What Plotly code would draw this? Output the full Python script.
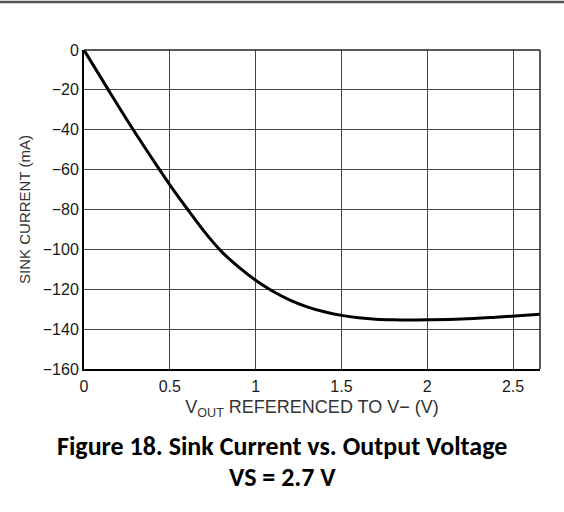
import plotly.graph_objects as go

# Data
vout = [0, 0.142, 0.287, 0.44, 0.5, 0.6, 0.7, 0.8, 0.9, 1.0, 1.1, 1.2, 1.3, 1.4,
        1.5, 1.6, 1.7, 1.8, 1.9, 2.0, 2.2, 2.4, 2.657]
sink_ma = [0, -20, -40, -60, -67.6, -79.5, -91, -101, -108.8, -115.5, -121, -125.4,
           -128.8, -131.3, -133.1, -134.3, -135, -135.3, -135.4, -135.3, -134.9,
           -134.0, -132.6]

x_ticks = [0, 0.5, 1, 1.5, 2, 2.5]
x_tick_labels = ["0", "0.5", "1", "1.5", "2", "2.5"]
y_ticks = [0, -20, -40, -60, -80, -100, -120, -140, -160]

W, H = 564, 512
L, R, T, B = 84, 24, 50, 143
pw, ph = W - L - R, H - T - B

fig = go.Figure()
fig.add_trace(go.Scatter(x=vout, y=sink_ma, mode="lines",
                         line=dict(color="black", width=3, shape="spline", smoothing=1.0),
                         showlegend=False, hoverinfo="skip"))

sans = "Liberation Sans, Arial, sans-serif"
tick_font = dict(family=sans, size=16, color="#1a1a1a")

fig.update_layout(
    width=W, height=H,
    margin=dict(l=L, r=R, t=T, b=B, pad=0, autoexpand=False),
    paper_bgcolor="white", plot_bgcolor="white",
    xaxis=dict(range=[0, 2.657], tickvals=x_ticks, ticktext=x_tick_labels,
               showgrid=True, gridcolor="#444", gridwidth=1.2,
               zeroline=False, showline=True, linecolor="black", linewidth=2,
               ticks="", ticklabelstandoff=2,
               tickfont=tick_font,
               title=dict(text="V<sub>OUT</sub> REFERENCED TO V− (V)",
                          font=dict(family=sans, size=18, color="#333"),
                          standoff=6)),
    yaxis=dict(range=[-160, 0], tickvals=y_ticks,
               showgrid=True, gridcolor="#444", gridwidth=1.2,
               zeroline=False, showline=True, linecolor="black", linewidth=2,
               ticks="", ticklabelstandoff=0,
               tickfont=tick_font,
               title=dict(text="SINK CURRENT (mA)",
                          font=dict(family=sans, size=15, color="#333"),
                          standoff=9)),
    font=dict(family=sans),
)

# top and right frame
fig.add_shape(type="line", xref="paper", yref="paper", x0=0, x1=1, y0=1, y1=1,
              line=dict(color="#222", width=1.5))
fig.add_shape(type="line", xref="paper", yref="paper", x0=1, x1=1, y0=0, y1=1,
              line=dict(color="#222", width=1.5))

# page rule at the very top
fig.add_shape(type="line", xref="paper", yref="paper",
              x0=-L / pw, x1=(W - L) / pw,
              y0=(H - B - 2) / ph, y1=(H - B - 2) / ph,
              line=dict(color="#555", width=2.5))

cap_font = dict(family="Carlito, Lato, Open Sans, sans-serif", size=26, color="black")
fig.add_annotation(text="<b>Figure 18. Sink Current vs. Output Voltage</b>",
                   xref="paper", yref="paper",
                   x=(282 - L) / pw, y=(H - B - 446) / ph,
                   xanchor="center", yanchor="middle", showarrow=False, font=cap_font)
fig.add_annotation(text="<b>VS = 2.7 V</b>",
                   xref="paper", yref="paper",
                   x=(282 - L) / pw, y=(H - B - 477) / ph,
                   xanchor="center", yanchor="middle", showarrow=False, font=cap_font)

fig.write_html("out.html", config={"displayModeBar": False},
               post_script="document.body.style.margin='0';document.body.style.padding='0';")
